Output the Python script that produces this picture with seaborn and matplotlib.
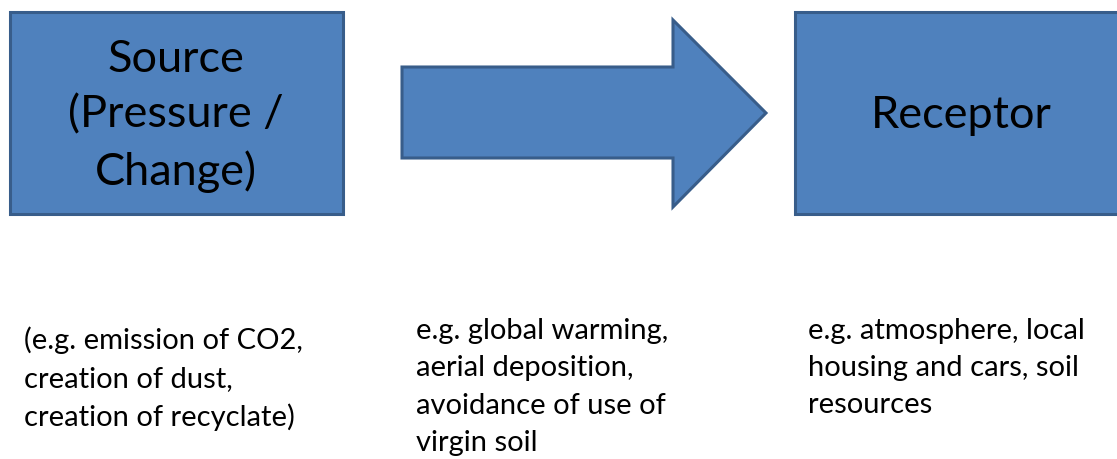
import matplotlib
matplotlib.use("Agg")
import matplotlib.pyplot as plt
import seaborn as sns
from matplotlib.patches import Rectangle, Polygon

sns.set_theme(style="white")
plt.rcParams['font.family'] = ['Lato', 'DejaVu Sans']

# Diagram content
box_labels = ["Source\n(Pressure /\nChange)", "Receptor"]
descriptions = [
    "(e.g. emission of CO2,\ncreation of dust,\ncreation of recyclate)",
    "e.g. global warming,\naerial deposition,\navoidance of use of\nvirgin soil",
    "e.g. atmosphere, local\nhousing and cars, soil\nresources",
]

FILL = "#4F81BD"
EDGE = "#385D8A"

fig = plt.figure(figsize=(11.17, 4.59), dpi=100)
ax = fig.add_axes([0, 0, 1, 1])
ax.set_xlim(0, 1117)
ax.set_ylim(459, 0)
ax.axis("off")

# boxes
ax.add_patch(Rectangle((10, 12), 333, 202, facecolor=FILL, edgecolor=EDGE, lw=2.2))
ax.add_patch(Rectangle((795, 12), 340, 202, facecolor=FILL, edgecolor=EDGE, lw=2.2, clip_on=True))

# arrow
arrow = [(402, 67), (673, 67), (673, 20), (766, 113), (673, 207), (673, 158), (402, 158)]
ax.add_patch(Polygon(arrow, closed=True, facecolor=FILL, edgecolor=EDGE, lw=2.2, joinstyle="miter"))

ax.text(176, 116, box_labels[0], ha="center", va="center", fontsize=32.5,
        color="black", linespacing=1.43)
ax.text(961, 116, box_labels[1], ha="center", va="center", fontsize=32.5, color="black")

ax.text(24, 379, descriptions[0], ha="left", va="center", fontsize=21,
        color="black", linespacing=1.53)
ax.text(416, 387, descriptions[1], ha="left", va="center", fontsize=21,
        color="black", linespacing=1.53)
ax.text(808, 368, descriptions[2], ha="left", va="center", fontsize=21,
        color="black", linespacing=1.53)

fig.savefig("out.png", dpi=100)
